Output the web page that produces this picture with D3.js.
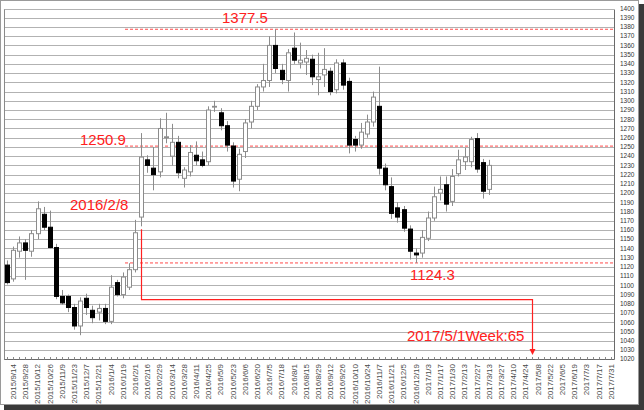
<!DOCTYPE html>
<html><head><meta charset="utf-8">
<script src="https://cdn.jsdelivr.net/npm/d3@7"></script>
<style>body{margin:0;background:#fff;overflow:hidden}</style>
</head><body>
<svg id="c" width="644" height="410"></svg>
<script>
// weekly candles, first week = 2015/9/7
const firstWeek = "2015-09-07";
const opens  = [1122,1107,1137,1146,1137,1156,1177,1163,1141,1088,1088,1076,1056,1086,1073,1071,1075,1061,1103,1090,
                1098,1117,1174,1236,1227,1223,1260,1240,1255,1216,1223,1241,1236,1234,1294,1287,1273,1251,1215,1245,
                1277,1294,1315,1322,1360,1333,1322,1357,1341,1342,1345,1323,1328,1332,1312,1341,1321,1258,1252,1264,
                1277,1294,1227,1207,1184,1182,1161,1135,1135,1151,1173,1200,1209,1191,1221,1234,1234,1259,1233,1204];
const highs  = [1127,1142,1153,1150,1160,1191,1185,1181,1145,1095,1090,1080,1087,1091,1078,1080,1080,1111,1106,1114,
                1124,1171,1265,1241,1250,1281,1287,1275,1262,1228,1252,1256,1245,1294,1300,1292,1278,1255,1248,1280,
                1300,1318,1340,1370,1377.5,1340,1356,1374,1363,1355,1350,1352,1357,1336,1345,1345,1325,1262,1276,1285,
                1310,1337,1232,1217,1190,1186,1165,1140,1160,1180,1207,1218,1218,1226,1247,1249,1261,1265,1237,1236];
const lows   = [1101,1104,1130,1106,1131,1150,1160,1140,1085,1079,1071,1052,1046,1068,1059,1062,1058,1058,1088,1086,
                1095,1114,1164,1222,1203,1217,1254,1230,1216,1206,1218,1230,1228,1230,1288,1268,1245,1206,1202,1238,
                1270,1290,1310,1315,1330,1318,1310,1340,1335,1328,1317,1306,1315,1306,1308,1312,1243,1245,1248,1260,
                1272,1220,1203,1172,1168,1158,1128,1124.3,1130,1148,1170,1192,1180,1186,1218,1225,1228,1222,1194,1198];
const closes = [1103,1138,1146,1138,1156,1183,1163,1141,1088,1081,1076,1056,1083,1076,1065,1075,1061,1098,1090,1109,
                1117,1157,1239,1230,1220,1270,1261,1255,1222,1225,1244,1235,1230,1290,1294,1273,1252,1213,1242,1276,
                1294,1315,1322,1360,1335,1323,1352,1344,1344,1346,1326,1326,1334,1310,1341,1317,1252,1252,1266,1277,
                1304,1227,1209,1178,1174,1162,1137,1133,1152,1173,1196,1204,1188,1218,1236,1239,1258,1226,1202,1230];
const tickLabels = ["2015/9/14","2015/9/28","2015/10/12","2015/10/26","2015/11/9","2015/11/23","2015/12/7","2015/12/21",
  "2016/1/4","2016/1/19","2016/2/1","2016/2/16","2016/2/29","2016/3/14","2016/3/28","2016/4/11","2016/4/25",
  "2016/5/9","2016/5/23","2016/6/6","2016/6/20","2016/7/5","2016/7/18","2016/8/1","2016/8/15","2016/8/29",
  "2016/9/12","2016/9/26","2016/10/10","2016/10/24","2016/11/7","2016/11/21","2016/12/5","2016/12/19",
  "2017/1/3","2017/1/17","2017/1/30","2017/2/13","2017/2/27","2017/3/13","2017/3/27","2017/4/10","2017/4/24",
  "2017/5/8","2017/5/22","2017/6/5","2017/6/19","2017/7/3","2017/7/17","2017/7/31"];
const yTicks = d3.range(1020, 1401, 10);
const levels = [1377.5, 1250.9, 1124.3];
const startWeek = 22;   // 2016/2/8
const targetWeek = 86;  // 2017/5/1
const startLabel = "2016/2/8";
const targetLabel = "2017/5/1Week:65";

const svg = d3.select("#c");
const x = d3.scaleLinear().domain([-0.5, 99.5]).range([3.95, 614]);
const y = d3.scaleLinear().domain([1020, 1400]).range([359.2, 8.5]);
const red = "#ff2020";

// outer frame with shadow
svg.append("rect").attr("x",4).attr("y",4).attr("width",640).attr("height",406).attr("fill","#3a3a3a");
svg.append("rect").attr("x",0.5).attr("y",0.5).attr("width",638).attr("height",404)
   .attr("fill","#fff").attr("stroke","#9a9a9a");

const g = svg.append("g");
g.selectAll("line.grid").data(yTicks).join("line")
  .attr("x1", x(-0.5)).attr("x2", x(99.5))
  .attr("y1", d => Math.round(y(d))+0.5).attr("y2", d => Math.round(y(d))+0.5)
  .attr("stroke", "#b2b2b2").attr("stroke-width", 1);
g.append("line").attr("x1",4.5).attr("x2",4.5).attr("y1",Math.round(y(1400))+0.5).attr("y2",Math.round(y(1020))+0.5).attr("stroke","#8a8a8a");
g.append("line").attr("x1",614.5).attr("x2",614.5).attr("y1",Math.round(y(1400))+0.5).attr("y2",Math.round(y(1020))+0.5).attr("stroke","#6a6a6a");
g.append("line").attr("x1",4.5).attr("x2",614.5).attr("y1",Math.round(y(1020))+0.5).attr("y2",Math.round(y(1020))+0.5).attr("stroke","#6a6a6a");
g.selectAll("line.wt").data(d3.range(0,100)).join("line")
  .attr("x1", d => Math.round(x(d))+0.5).attr("x2", d => Math.round(x(d))+0.5)
  .attr("y1", Math.round(y(1020))-2).attr("y2", Math.round(y(1020))+0.5)
  .attr("stroke","#8a8a8a");

g.selectAll("text.yl").data(yTicks).join("text")
  .attr("x", 620).attr("y", d => y(d)).attr("dy","0.35em")
  .attr("font-family","Liberation Sans, Arial, sans-serif").attr("font-size","6.5px")
  .attr("fill","#333").text(d => d);

g.selectAll("text.xl").data(tickLabels).join("text")
  .attr("transform", (d,i) => `translate(${x(1+2*i)+2.8},364) rotate(-90)`)
  .attr("text-anchor","end")
  .attr("font-family","Liberation Sans, Arial, sans-serif").attr("font-size","8px")
  .attr("fill","#4a4a4a").text(d => d);

svg.selectAll("line.lv").data(levels).join("line")
  .attr("x1", 125).attr("x2", x(99.5))
  .attr("y1", d => y(d)).attr("y2", d => y(d))
  .attr("stroke", "#ff4a4a").attr("stroke-width", 1).attr("stroke-dasharray","3,2");

const data = opens.map((o,i) => ({i, o, h: highs[i], l: lows[i], c: closes[i]}));
const cg = svg.append("g");
cg.selectAll("line.wick").data(data).join("line")
  .attr("x1", d => Math.round(x(d.i))+0.5).attr("x2", d => Math.round(x(d.i))+0.5)
  .attr("y1", d => y(d.h)).attr("y2", d => y(d.l))
  .attr("stroke","#8c8c8c").attr("stroke-width",1);
cg.selectAll("rect.body").data(data).join("rect")
  .attr("x", d => Math.round(x(d.i))-1.5).attr("width", 4)
  .attr("y", d => y(Math.max(d.o,d.c))).attr("height", d => Math.max(0.8, y(Math.min(d.o,d.c)) - y(Math.max(d.o,d.c))))
  .attr("fill", d => d.c < d.o ? "#000" : "#fff")
  .attr("stroke", d => d.c < d.o ? "#000" : "#8c8c8c").attr("stroke-width",1);

const ax0 = Math.round(x(startWeek))+0.5, ax1 = Math.round(x(targetWeek))+0.5;
const yTop = y(lows[startWeek]) + 3, yMid = y(1084.5), yEnd = y(1024.5);
svg.append("path")
  .attr("d", `M${ax0},${yTop}V${yMid}H${ax1}V${yEnd-5}`)
  .attr("fill","none").attr("stroke",red).attr("stroke-width",1.2);
svg.append("path")
  .attr("d", `M${ax1-3},${yEnd-6}L${ax1+3},${yEnd-6}L${ax1},${yEnd}Z`).attr("fill",red);

const tf = "Liberation Sans, Arial, sans-serif";
const T = (s, tx, ty) => svg.append("text").attr("x",tx).attr("y",ty).attr("fill",red)
  .attr("font-family",tf).attr("font-size","15px").text(s);
T(levels[0], 222, 23);
T(levels[1], 80, 145);
T(levels[2], 410, 280);
T(startLabel, 70, 210);
T(targetLabel, 407, 341);
</script>
</body></html>
